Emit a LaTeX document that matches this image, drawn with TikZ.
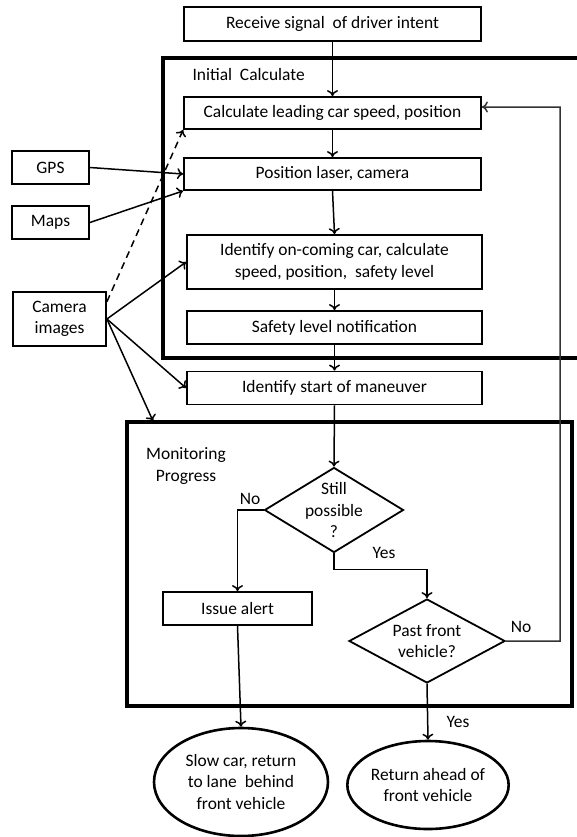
\documentclass[tikz,border=0pt]{standalone}
\usepackage{fontspec}
\setmainfont{Carlito}
\usetikzlibrary{shapes.geometric, arrows.meta}

\begin{document}
\begin{tikzpicture}[x=1bp, y=-1bp, font=\fontsize{17.5}{21.5}\selectfont,
  >={To[length=6bp, width=11bp]},
  box/.style={draw, line width=1.8bp, inner sep=0pt, align=center},
  decide/.style={draw, diamond, line width=1.8bp, inner sep=-40bp, align=center},
  finish/.style={draw, ellipse, line width=2.6bp, inner sep=0pt, align=center},
  frame/.style={line width=3.2bp},
  flow/.style={->, line width=1.5bp}]
    \useasboundingbox (0,0) rectangle (577,837);

    % the two frames
    \draw[frame] (163,58) rectangle (582,358);
    \draw[frame] (127,422) rectangle (572,706);
    \node [anchor=west](initlbl) at (189,75) {Initial~ Calculate};
    \node [align=center](monlbl) at (186,466) {Monitoring\\Progress};

    % main chain
    \node [box, minimum width=297bp, minimum height=34bp](recv) at (332.5,24) {Receive signal~ of driver intent};
    \node [box, minimum width=297bp, minimum height=32bp](calc) at (332.5,113) {Calculate leading car speed, position};
    \node [box, minimum width=297bp, minimum height=32bp](pos) at (332.5,174) {Position laser, camera};
    \node [box, minimum width=295bp, minimum height=54bp](ident) at (334.5,262) {Identify on-coming car, calculate\\speed, position,~ safety level};
    \node [box, minimum width=295bp, minimum height=33bp](safe) at (334.5,327.5) {Safety level notification};
    \node [box, minimum width=295bp, minimum height=33bp](start) at (334.5,388) {Identify start of maneuver};

    % monitoring
    \node [decide, minimum width=139bp, minimum height=85bp](still) at (334,510) {Still\\possible\\?};
    \node [box, minimum width=149bp, minimum height=33bp](alert) at (237.5,608.5) {Issue alert};
    \node [decide, minimum width=156bp, minimum height=84bp](past) at (427,641) {Past front\\vehicle?};
    \node [finish, minimum width=174bp, minimum height=108bp](slow) at (241,782) {Slow car, return\\to lane~ behind\\front vehicle};
    \node [finish, minimum width=154bp, minimum height=88bp](ret) at (428,785) {Return ahead of\\front vehicle};

    % inputs
    \node [box, minimum width=77bp, minimum height=33bp](gps) at (50.5,167.5) {GPS};
    \node [box, minimum width=77bp, minimum height=33bp](maps) at (50.5,222.5) {Maps};
    \node [box, minimum width=93bp, minimum height=54bp](cam) at (59.5,319) {Camera\\images};

    \coordinate (monin) at (153,421);
    \coordinate (loop) at (560,107);

    \draw[flow] (recv) -- (calc);
    \draw[flow] (calc) -- (pos);
    \draw[flow] (pos.south) -- (ident.north);
    \draw[flow] (ident) -- (safe);
    \draw[flow] (safe) -- (start);
    \draw[flow] (start.south) -- (still.north);

    \draw[flow] (still.west) -| (alert.north);
    \draw[flow] (still.south) -- ++(0,16) -| (past.north);
    \draw[flow] (alert.south) -- (slow.north);
    \draw[flow] (past.south) -- (ret.north);
    \draw[flow, black!80] (past.east) -| (loop) -- ([yshift=6bp]calc.east);

    \draw[flow] (gps.east) -- (pos.west);
    \draw[flow] (maps.east) -- (pos.south west);
    \draw[flow, dash pattern=on 7bp off 5bp] (cam.20) -- (calc.south west);
    \draw[flow] (cam.east) -- (ident.west);
    \draw[flow] (cam.east) -- (start.west);
    \draw[flow] (cam.east) -- (monin);

    \node (no1) at (250,499) {No};
    \node (yes1) at (384,553) {Yes};
    \node (no2) at (521,627) {No};
    \node (yes2) at (458,722) {Yes};
\end{tikzpicture}
\end{document}
